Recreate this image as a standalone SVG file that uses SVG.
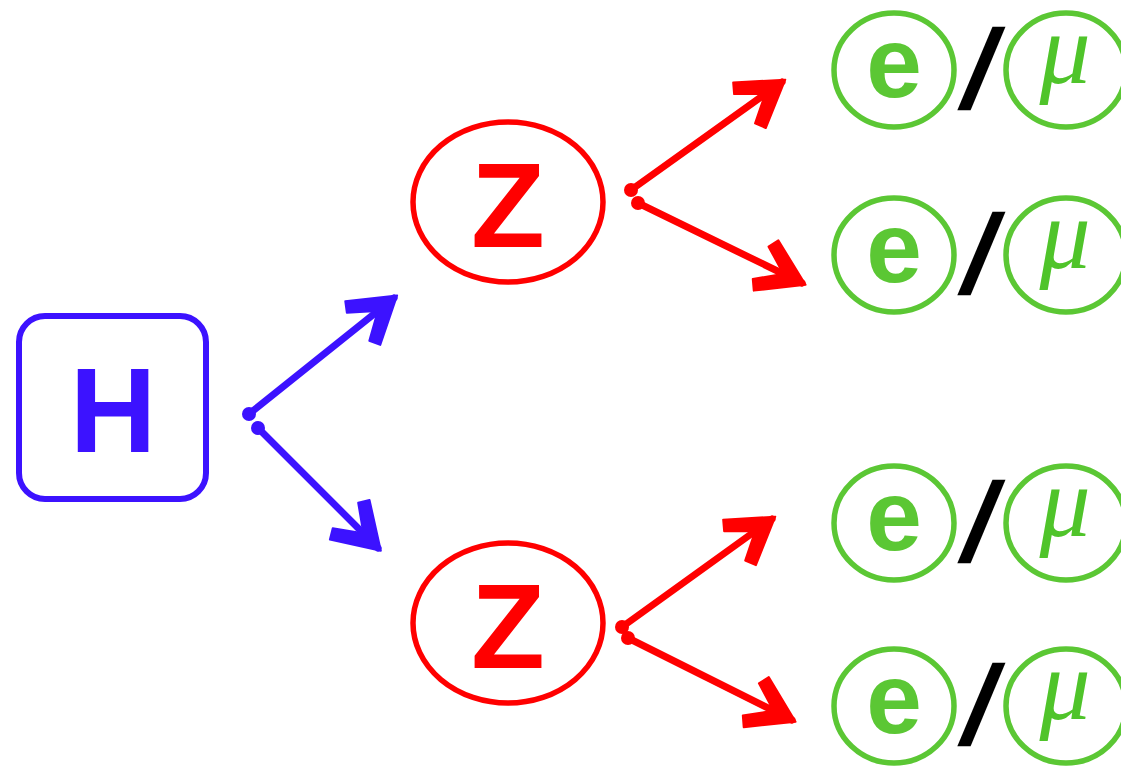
<svg xmlns="http://www.w3.org/2000/svg" width="1121" height="766" viewBox="0 0 1121 766">
<style>
.lbl{font-family:"Liberation Sans",Arial,sans-serif;font-weight:bold;text-anchor:middle}
.mu{font-family:"Liberation Serif","Times New Roman",serif;font-style:italic;text-anchor:middle;fill:#4fc42a}
.gc{fill:none;stroke:#5bc734;stroke-width:5.5}
.blue{stroke:#3c12ff;fill:none;stroke-width:7;stroke-linecap:round}
.red{stroke:#ff0000;fill:none;stroke-width:7;stroke-linecap:round}
</style>
<defs>
<marker id="ab" markerUnits="userSpaceOnUse" orient="auto" refX="0" refY="0" markerWidth="60" markerHeight="60" viewBox="-50 -30 56 60" overflow="visible">
<path d="M4 0 L-40 -28 L-46 -18 L-25 -3 L-25 3 L-46 18 L-40 28 Z" fill="#3c12ff" stroke="#3c12ff" stroke-width="2" stroke-linejoin="round"/>
</marker>
<marker id="ar" markerUnits="userSpaceOnUse" orient="auto" refX="0" refY="0" markerWidth="60" markerHeight="60" viewBox="-50 -30 56 60" overflow="visible">
<path d="M4 0 L-40 -28 L-46 -18 L-25 -3 L-25 3 L-46 18 L-40 28 Z" fill="#ff0000" stroke="#ff0000" stroke-width="2" stroke-linejoin="round"/>
</marker>
</defs>
<rect width="1121" height="766" fill="#ffffff"/>
<g id="connectors">
<line class="blue" x1="249" y1="414" x2="394" y2="298" marker-end="url(#ab)"/>
<circle cx="249" cy="414" r="7" fill="#3c12ff"/>
<line class="blue" x1="258" y1="428" x2="378" y2="548" marker-end="url(#ab)"/>
<circle cx="258" cy="428" r="7" fill="#3c12ff"/>
<line class="red" x1="631" y1="190" x2="782" y2="82" marker-end="url(#ar)"/>
<circle cx="631" cy="190" r="7" fill="#ff0000"/>
<line class="red" x1="638" y1="203" x2="802" y2="283" marker-end="url(#ar)"/>
<circle cx="638" cy="203" r="7" fill="#ff0000"/>
<line class="red" x1="622" y1="627" x2="772" y2="519" marker-end="url(#ar)"/>
<circle cx="622" cy="627" r="7" fill="#ff0000"/>
<line class="red" x1="628" y1="638" x2="792" y2="720" marker-end="url(#ar)"/>
<circle cx="628" cy="638" r="7" fill="#ff0000"/>
</g>
<g id="H">
<rect x="19" y="316" width="187" height="183" rx="26" fill="none" stroke="#3c12ff" stroke-width="6"/>
<text class="lbl" x="113" y="452" font-size="120" fill="#3c12ff">H</text>
</g>
<g id="Z1">
<ellipse cx="508" cy="202" rx="95" ry="80" fill="none" stroke="#ff0000" stroke-width="5.5"/>
<text class="lbl" x="508" y="247" font-size="121" fill="#ff0000">Z</text>
</g>
<g id="Z2">
<ellipse cx="508" cy="623" rx="95" ry="80" fill="none" stroke="#ff0000" stroke-width="5.5"/>
<text class="lbl" x="508" y="668" font-size="121" fill="#ff0000">Z</text>
</g>
<g id="lep1" transform="translate(0,70)">
<ellipse class="gc" cx="894" cy="0" rx="60" ry="57"/>
<text class="lbl" x="894" y="27" font-size="100" fill="#5bc734">e</text>
<text class="lbl" x="982" y="38" font-size="112" fill="#000" transform="skewX(-13)" dx="-1">/</text>
<ellipse class="gc" cx="1066" cy="0" rx="60" ry="57"/>
<text class="mu" x="1065" y="13" font-size="102">μ</text>
</g>
<g id="lep2" transform="translate(0,255)">
<ellipse class="gc" cx="894" cy="0" rx="60" ry="57"/>
<text class="lbl" x="894" y="27" font-size="100" fill="#5bc734">e</text>
<text class="lbl" x="982" y="38" font-size="112" fill="#000" transform="skewX(-13)" dx="-1">/</text>
<ellipse class="gc" cx="1066" cy="0" rx="60" ry="57"/>
<text class="mu" x="1065" y="13" font-size="102">μ</text>
</g>
<g id="lep3" transform="translate(0,523)">
<ellipse class="gc" cx="894" cy="0" rx="60" ry="57"/>
<text class="lbl" x="894" y="27" font-size="100" fill="#5bc734">e</text>
<text class="lbl" x="982" y="38" font-size="112" fill="#000" transform="skewX(-13)" dx="-1">/</text>
<ellipse class="gc" cx="1066" cy="0" rx="60" ry="57"/>
<text class="mu" x="1065" y="13" font-size="102">μ</text>
</g>
<g id="lep4" transform="translate(0,706)">
<ellipse class="gc" cx="894" cy="0" rx="60" ry="57"/>
<text class="lbl" x="894" y="27" font-size="100" fill="#5bc734">e</text>
<text class="lbl" x="982" y="38" font-size="112" fill="#000" transform="skewX(-13)" dx="-1">/</text>
<ellipse class="gc" cx="1066" cy="0" rx="60" ry="57"/>
<text class="mu" x="1065" y="13" font-size="102">μ</text>
</g>
</svg>
